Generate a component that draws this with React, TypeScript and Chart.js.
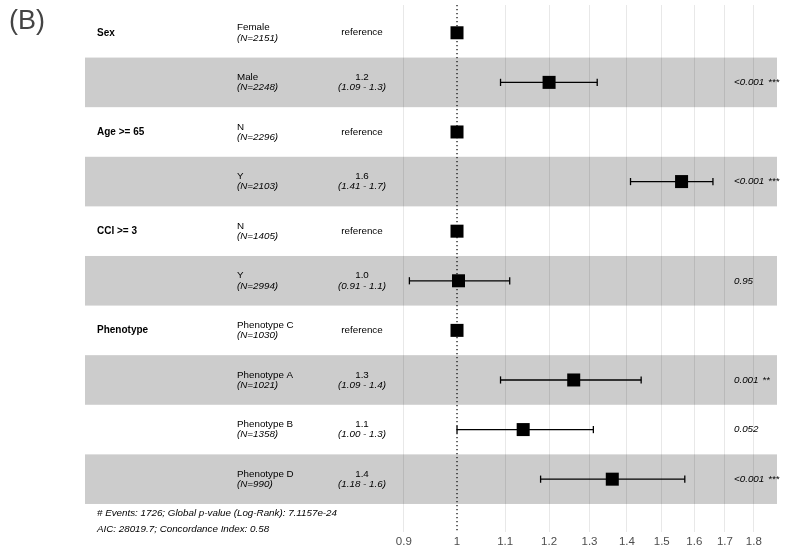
import React, { useEffect, useRef } from "react";
import { Chart, registerables } from "chart.js";

Chart.register(...registerables);

// Hazard-ratio table: one entry per row, top to bottom.
const VARIABLES = ["Sex", "", "Age >= 65", "", "CCI >= 3", "", "Phenotype", "", "", ""];
const LEVELS = ["Female", "Male", "N", "Y", "N", "Y", "Phenotype C", "Phenotype A", "Phenotype B", "Phenotype D"];
const COUNTS = [2151, 2248, 2296, 2103, 1405, 2994, 1030, 1021, 1358, 990];
const HAZARD = [1, 1.2, 1, 1.56, 1, 1.003, 1, 1.26, 1.14, 1.36];
const LOWER: (number | null)[] = [null, 1.09, null, 1.41, null, 0.91, null, 1.09, 1.0, 1.18];
const UPPER: (number | null)[] = [null, 1.32, null, 1.66, null, 1.11, null, 1.44, 1.31, 1.57];
const P_VALUES = ["", "<0.001", "", "<0.001", "", "0.95", "", "0.001", "0.052", "<0.001"];
const STARS = ["", "***", "", "***", "", "", "", "**", "", "***"];

const X_TICKS = [0.9, 1, 1.1, 1.2, 1.3, 1.4, 1.5, 1.6, 1.7, 1.8];
const X_TICK_LABELS = ["0.9", "1", "1.1", "1.2", "1.3", "1.4", "1.5", "1.6", "1.7", "1.8"];

const FOOTER = [
  "# Events: 1726; Global p-value (Log-Rank): 7.1157e-24",
  "AIC: 28019.7; Concordance Index: 0.58",
];

const FONT = "'Liberation Sans', Arial, sans-serif";

const rows = LEVELS.map((_, i) => i + 1);

const forestPlugin = {
  id: "forestTable",
  beforeDraw(chart: any) {
    const { ctx, chartArea, scales } = chart;
    const y = scales.y;
    ctx.save();
    ctx.fillStyle = "#FFFFFF";
    ctx.fillRect(0, 0, chart.width, chart.height);
    ctx.fillStyle = "#CCCCCC";
    rows.forEach((r) => {
      if (r % 2 === 0) {
        const top = y.getPixelForValue(r - 0.5);
        const bottom = y.getPixelForValue(r + 0.5);
        ctx.fillRect(chartArea.left, top, chartArea.right - chartArea.left, bottom - top);
      }
    });
    ctx.restore();
  },
  beforeDatasetsDraw(chart: any) {
    const { ctx, chartArea, scales } = chart;
    const px = scales.x.getPixelForValue(1);
    ctx.save();
    ctx.strokeStyle = "#000000";
    ctx.lineWidth = 1.2;
    ctx.setLineDash([1.3, 2.7]);
    ctx.beginPath();
    ctx.moveTo(px, chartArea.top);
    ctx.lineTo(px, chartArea.bottom);
    ctx.stroke();
    ctx.restore();
  },
  afterDraw(chart: any) {
    const { ctx, scales } = chart;
    const y = scales.y;
    ctx.save();
    ctx.textBaseline = "middle";

    // Panel tag
    ctx.fillStyle = "#444444";
    ctx.font = `27px ${FONT}`;
    ctx.textAlign = "left";
    ctx.fillText("(B)", 9, 22);

    ctx.fillStyle = "#000000";
    rows.forEach((r, i) => {
      const cy = y.getPixelForValue(r);
      if (VARIABLES[i]) {
        ctx.font = `bold 10px ${FONT}`;
        ctx.textAlign = "left";
        ctx.fillText(VARIABLES[i], 97, cy);
      }
      ctx.textAlign = "left";
      ctx.font = `9.8px ${FONT}`;
      ctx.fillText(LEVELS[i], 237, cy - 5);
      ctx.font = `italic 9.8px ${FONT}`;
      ctx.fillText(`(N=${COUNTS[i]})`, 237, cy + 5);

      ctx.textAlign = "center";
      const lo = LOWER[i];
      const hi = UPPER[i];
      if (lo === null || hi === null) {
        ctx.font = `9.8px ${FONT}`;
        ctx.fillText("reference", 362, cy);
      } else {
        ctx.font = `9.8px ${FONT}`;
        ctx.fillText(HAZARD[i].toFixed(1), 362, cy - 5);
        ctx.font = `italic 9.8px ${FONT}`;
        ctx.fillText(`(${lo.toFixed(2)} - ${hi.toFixed(1)})`, 362, cy + 5);
      }

      if (P_VALUES[i]) {
        ctx.textAlign = "left";
        ctx.font = `italic 9.8px ${FONT}`;
        ctx.fillText(P_VALUES[i], 734, cy);
        if (STARS[i]) {
          const w = ctx.measureText(P_VALUES[i] + " ").width;
          ctx.fillText(STARS[i], 734 + w + 1, cy);
        }
      }
    });

    ctx.font = `italic 9.8px ${FONT}`;
    ctx.textAlign = "left";
    FOOTER.forEach((line, k) => ctx.fillText(line, 97, 513 + k * 16));
    ctx.restore();
  },
};

export default function App() {
  const canvasRef = useRef<HTMLCanvasElement | null>(null);

  useEffect(() => {
    const canvas = canvasRef.current;
    if (!canvas) return;

    const ciDatasets = rows
      .map((r, i) => ({ r, i }))
      .filter(({ i }) => LOWER[i] !== null && UPPER[i] !== null)
      .map(({ r, i }) => ({
        type: "scatter" as const,
        data: [
          { x: LOWER[i] as number, y: r },
          { x: UPPER[i] as number, y: r },
        ],
        showLine: true,
        borderColor: "#000000",
        borderWidth: 1.3,
        pointStyle: "line" as const,
        rotation: 90,
        pointRadius: 3.6,
        pointBorderColor: "#000000",
        pointBorderWidth: 1.3,
        order: 2,
      }));

    const chart = new Chart(canvas, {
      type: "scatter",
      data: {
        datasets: [
          {
            data: rows.map((r, i) => ({ x: HAZARD[i], y: r })),
            pointStyle: "rect",
            pointRadius: 9.2,
            backgroundColor: "#000000",
            borderWidth: 0,
            order: 0,
          },
          ...ciDatasets,
        ] as any,
      },
      options: {
        responsive: false,
        animation: false,
        layout: { autoPadding: false, padding: { left: 85, right: 9, top: 5, bottom: 0 } },
        plugins: { legend: { display: false }, tooltip: { enabled: false } },
        scales: {
          x: {
            type: "logarithmic",
            min: 0.4787,
            max: 1.8845,
            bounds: "data",
            border: { display: false },
            grid: {
              drawTicks: false,
              lineWidth: 1,
              color: (c: any) => (c.tick && c.tick.value === 1 ? "rgba(0,0,0,0)" : "rgba(0,0,0,0.09)"),
            },
            afterBuildTicks: (scale: any) => {
              scale.ticks = X_TICKS.map((v) => ({ value: v }));
            },
            afterFit: (scale: any) => {
              scale.height = 16;
            },
            ticks: {
              autoSkip: false,
              maxRotation: 0,
              padding: 3,
              color: "#4D4D4D",
              font: { family: FONT, size: 11.5 },
              callback: (v: any) => {
                const k = X_TICKS.findIndex((t) => Math.abs(t - Number(v)) < 1e-9);
                return k >= 0 ? X_TICK_LABELS[k] : "";
              },
            },
          },
          y: {
            type: "linear",
            display: false,
            reverse: true,
            min: 0.44,
            max: 11.065,
          },
        },
      },
      plugins: [forestPlugin],
    });

    return () => chart.destroy();
  }, []);

  return (
    <div style={{ position: "absolute", left: 0, top: 0, width: 786, height: 548, background: "#fff" }}>
      <canvas ref={canvasRef} width={786} height={548} style={{ display: "block" }} />
    </div>
  );
}
